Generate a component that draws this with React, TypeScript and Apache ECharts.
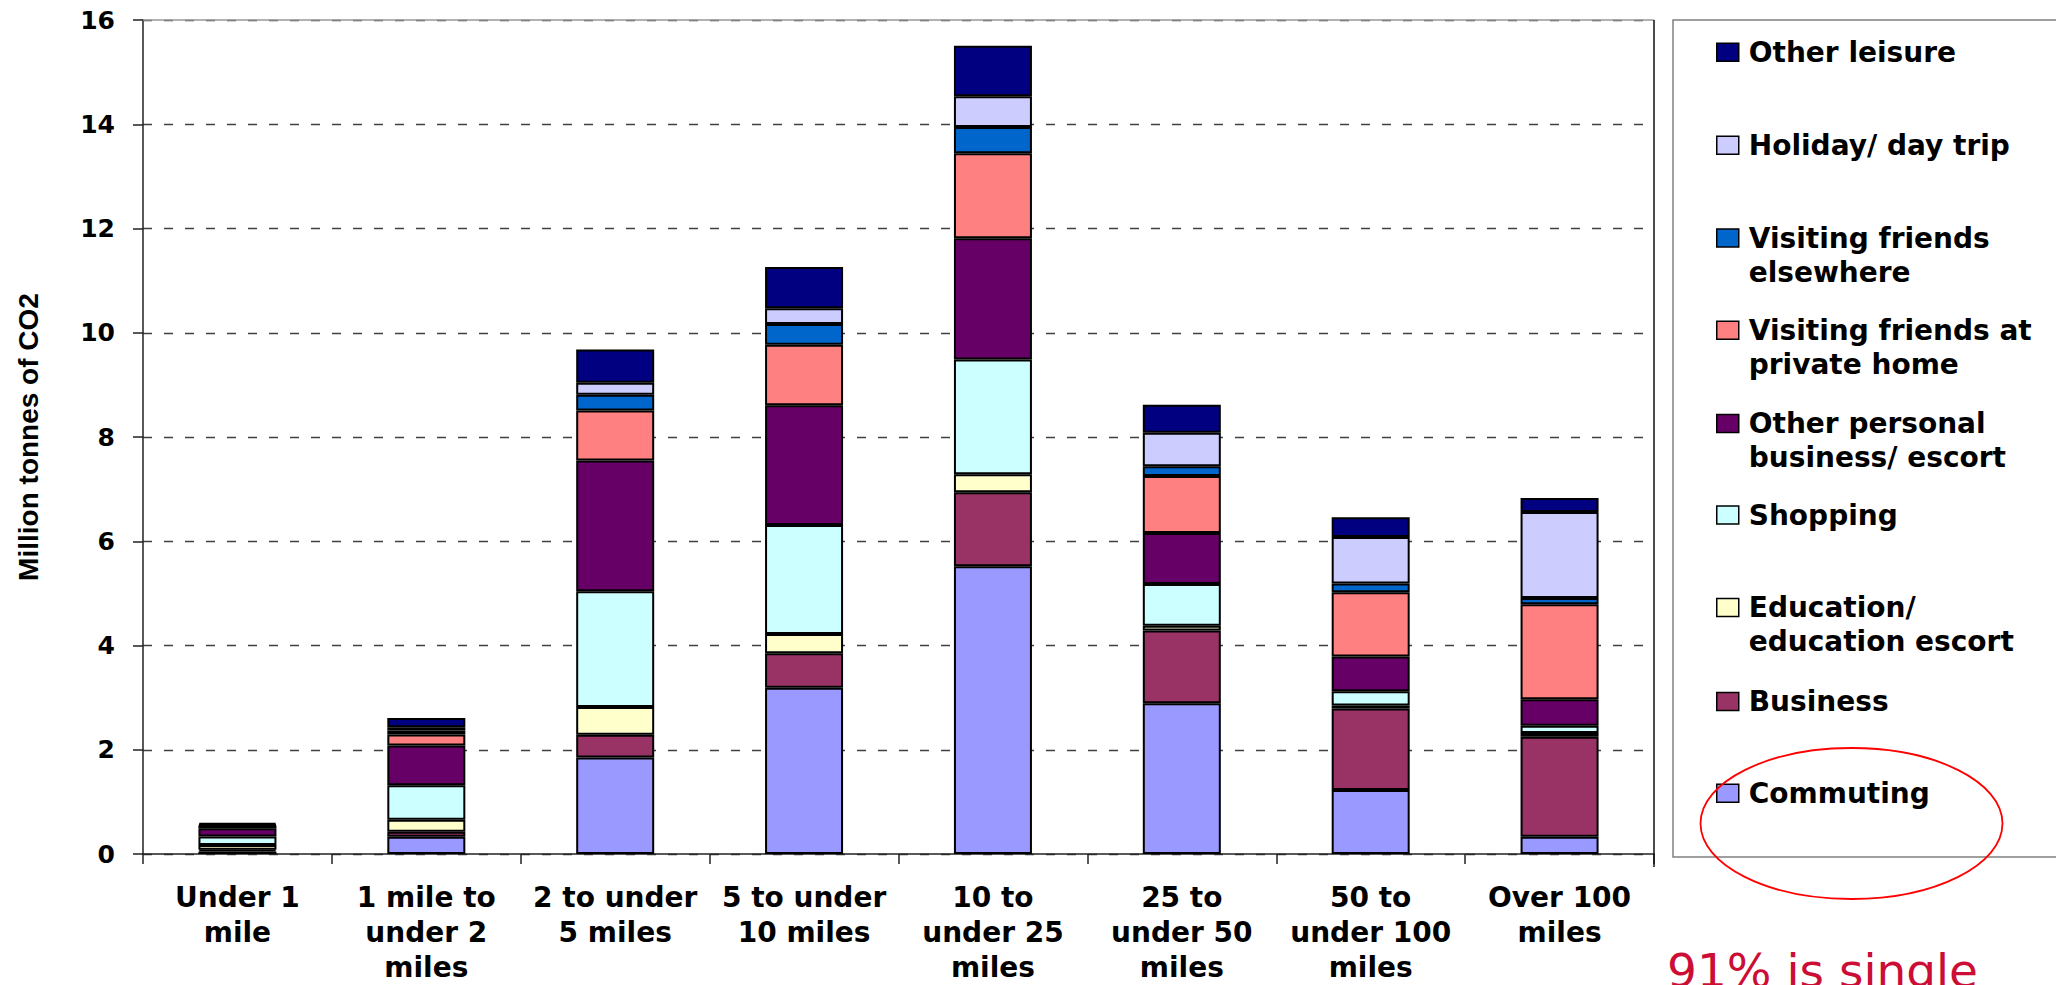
import React, { useEffect, useRef } from "react";
import * as echarts from "echarts";

const categories = [
  "Under 1\nmile",
  "1 mile to\nunder 2\nmiles",
  "2 to under\n5 miles",
  "5 to under\n10 miles",
  "10 to\nunder 25\nmiles",
  "25 to\nunder 50\nmiles",
  "50 to\nunder 100\nmiles",
  "Over 100\nmiles",
];

const yTicks = { min: 0, max: 16, interval: 2 };

const commuting = [0.05, 0.33, 1.85, 3.19, 5.52, 2.89, 1.23, 0.33];
const business = [0.03, 0.096, 0.44, 0.66, 1.42, 1.40, 1.56, 1.92];
const education = [0.095, 0.23, 0.53, 0.37, 0.345, 0.09, 0.06, 0.07];
const shopping = [0.16, 0.665, 2.22, 2.09, 2.2, 0.8, 0.27, 0.14];
const otherPersonal = [0.16, 0.76, 2.51, 2.3, 2.33, 0.98, 0.67, 0.51];
const visitingHome = [0.04, 0.21, 0.96, 1.16, 1.63, 1.09, 1.23, 1.82];
const visitingElsewhere = [0.01, 0.08, 0.3, 0.4, 0.5, 0.19, 0.17, 0.12];
const holiday = [0.02, 0.06, 0.23, 0.3, 0.59, 0.64, 0.89, 1.65];
const otherLeisure = [0.03, 0.18, 0.64, 0.79, 0.97, 0.54, 0.38, 0.27];

const seriesNames = [
  "Commuting",
  "Business",
  "Education/ education escort",
  "Shopping",
  "Other personal business/ escort",
  "Visiting friends at private home",
  "Visiting friends elsewhere",
  "Holiday/ day trip",
  "Other leisure",
];
const legendLabels = [
  "Commuting",
  "Business",
  "Education/\neducation escort",
  "Shopping",
  "Other personal\nbusiness/ escort",
  "Visiting friends at\nprivate home",
  "Visiting friends\nelsewhere",
  "Holiday/ day trip",
  "Other leisure",
];
const seriesValues = [
  commuting,
  business,
  education,
  shopping,
  otherPersonal,
  visitingHome,
  visitingElsewhere,
  holiday,
  otherLeisure,
];
const seriesColors = [
  "#9999FF",
  "#993366",
  "#FFFFCC",
  "#CCFFFF",
  "#660066",
  "#FF8080",
  "#0066CC",
  "#CCCCFF",
  "#000080",
];

const annotation = "91% is single";

// layout (marker centre y of each legend entry, top to bottom = last series first)
const LEGEND_CENTERS = [52.2, 145.3, 238, 330.3, 423.5, 515, 607.5, 701.5, 793.3];

const GRID = { left: 143, right: 402, top: 20, bottom: 128 };
const W = 2056;
const H = 985;
const FONT = "'DejaVu Sans', sans-serif";

export default function App() {
  const ref = useRef<HTMLDivElement>(null);

  useEffect(() => {
    if (!ref.current) return;
    const chart = echarts.init(ref.current, undefined, { renderer: "svg" });

    const plotRight = W - GRID.right;
    const plotBottom = H - GRID.bottom;

    const legends = seriesNames
      .map((name, i) => ({ name, label: legendLabels[i], i }))
      .reverse()
      .map((it, k) => {
        const multi = it.label.includes("\n");
        const text = multi ? "\n" + it.label : it.label;
        const lh = 34;
        const half = multi ? (lh * 3) / 2 : lh / 2;
        return {
          data: [it.name],
          left: 1716,
          top: LEGEND_CENTERS[k] - half,
          orient: "vertical",
          padding: 0,
          icon: "rect",
          itemWidth: 22,
          itemHeight: 18,
          selectedMode: false,
          itemStyle: { borderColor: "#000", borderWidth: 1.5 },
          formatter: () => text,
          textStyle: {
            fontFamily: FONT,
            fontSize: 28,
            fontWeight: "bold",
            color: "#000",
            lineHeight: lh,
            padding: [0, 0, 0, 5],
          },
        };
      });

    const option: any = {
      animation: false,
      backgroundColor: "#fff",
      textStyle: { fontFamily: FONT },
      grid: { ...GRID, containLabel: false },
      legend: legends,
      xAxis: {
        type: "category",
        data: categories,
        axisLine: { show: true, lineStyle: { color: "#222", width: 1.5 } },
        axisTick: { show: true, length: 10, lineStyle: { color: "#222", width: 1.5 } },
        axisLabel: {
          interval: 0,
          margin: 26,
          fontFamily: FONT,
          fontSize: 28,
          fontWeight: "bold",
          color: "#000",
          lineHeight: 35,
        },
        splitLine: { show: false },
      },
      yAxis: {
        type: "value",
        min: yTicks.min,
        max: yTicks.max,
        interval: yTicks.interval,
        name: "Million tonnes of CO2",
        nameLocation: "middle",
        nameGap: 101,
        nameRotate: 90,
        nameTextStyle: {
          fontFamily: "'Liberation Sans', Arial, sans-serif",
          fontSize: 28,
          fontWeight: "bold",
          color: "#000",
        },
        axisLine: { show: true, lineStyle: { color: "#222", width: 1.5 } },
        axisTick: { show: true, length: 10, lineStyle: { color: "#222", width: 1.5 } },
        axisLabel: {
          margin: 28,
          fontFamily: FONT,
          fontSize: 25,
          fontWeight: "bold",
          color: "#000",
        },
        splitLine: {
          show: true,
          lineStyle: { color: "#404040", width: 1.3, type: [9, 12] },
        },
      },
      series: seriesNames.map((name, i) => ({
        name,
        type: "bar",
        stack: "total",
        barWidth: 78,
        data: seriesValues[i],
        itemStyle: {
          color: seriesColors[i],
          borderColor: "#000",
          borderWidth: 2,
        },
        emphasis: { disabled: true },
      })),
      graphic: [
        {
          type: "line",
          z: 5,
          shape: { x1: GRID.left, y1: GRID.top, x2: plotRight, y2: GRID.top },
          style: { stroke: "#999", lineWidth: 1.5 },
        },
        {
          type: "line",
          z: 5,
          shape: { x1: plotRight, y1: GRID.top, x2: plotRight, y2: plotBottom + 10 },
          style: { stroke: "#111", lineWidth: 1.5 },
        },
        {
          type: "rect",
          z: 5,
          shape: { x: 1673, y: GRID.top, width: 500, height: plotBottom - GRID.top },
          style: { fill: "none", stroke: "#808080", lineWidth: 1.5 },
        },
        {
          type: "ellipse",
          z: 100,
          shape: { cx: 1851.5, cy: 823.5, rx: 151, ry: 75.5 },
          style: { fill: "none", stroke: "#FF0000", lineWidth: 1.8 },
        },
        {
          type: "text",
          z: 100,
          x: 1667,
          y: 970,
          style: {
            text: annotation,
            fontFamily: FONT,
            fontSize: 47,
            fill: "#CC0D35",
            verticalAlign: "middle",
            align: "left",
          },
        },
      ],
    };

    chart.setOption(option);
    return () => chart.dispose();
  }, []);

  return (
    <div
      ref={ref}
      style={{ position: "absolute", left: 0, top: 0, width: W, height: H, background: "#fff" }}
    />
  );
}
